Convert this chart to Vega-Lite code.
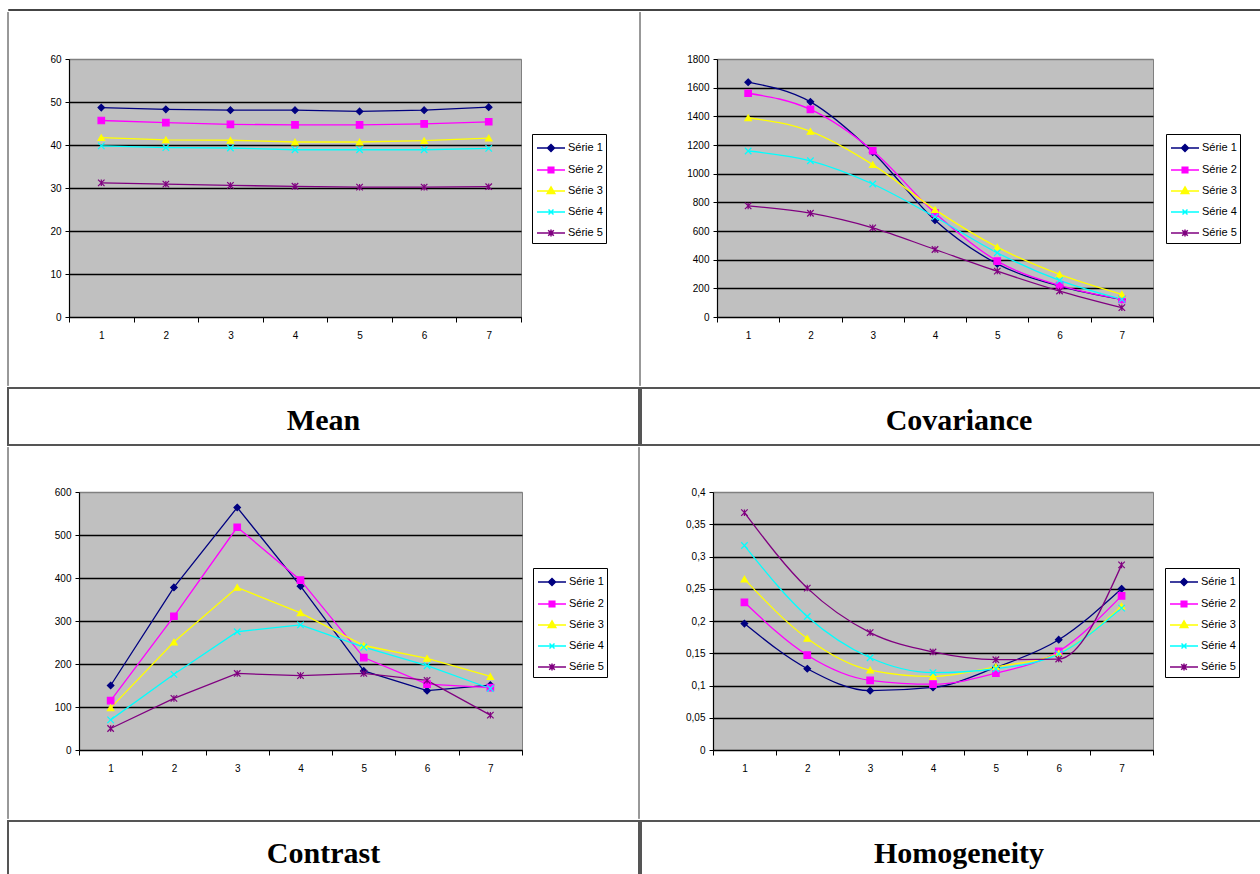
{
  "$schema": "https://vega.github.io/schema/vega-lite/v6.json",
  "background": "white",
  "padding": {"left": 7, "top": 8, "right": 0, "bottom": 0},
  "datasets": {
    "mean": [
      {"x": 1, "s": "Série 1", "v": 48.7}, {"x": 2, "s": "Série 1", "v": 48.3}, {"x": 3, "s": "Série 1", "v": 48.1}, {"x": 4, "s": "Série 1", "v": 48.1}, {"x": 5, "s": "Série 1", "v": 47.8}, {"x": 6, "s": "Série 1", "v": 48.1}, {"x": 7, "s": "Série 1", "v": 48.8},
      {"x": 1, "s": "Série 2", "v": 45.7}, {"x": 2, "s": "Série 2", "v": 45.2}, {"x": 3, "s": "Série 2", "v": 44.8}, {"x": 4, "s": "Série 2", "v": 44.7}, {"x": 5, "s": "Série 2", "v": 44.7}, {"x": 6, "s": "Série 2", "v": 44.9}, {"x": 7, "s": "Série 2", "v": 45.4},
      {"x": 1, "s": "Série 3", "v": 41.7}, {"x": 2, "s": "Série 3", "v": 41.2}, {"x": 3, "s": "Série 3", "v": 41.1}, {"x": 4, "s": "Série 3", "v": 40.7}, {"x": 5, "s": "Série 3", "v": 40.7}, {"x": 6, "s": "Série 3", "v": 41.0}, {"x": 7, "s": "Série 3", "v": 41.6},
      {"x": 1, "s": "Série 4", "v": 39.8}, {"x": 2, "s": "Série 4", "v": 39.4}, {"x": 3, "s": "Série 4", "v": 39.3}, {"x": 4, "s": "Série 4", "v": 38.9}, {"x": 5, "s": "Série 4", "v": 38.9}, {"x": 6, "s": "Série 4", "v": 38.9}, {"x": 7, "s": "Série 4", "v": 39.2},
      {"x": 1, "s": "Série 5", "v": 31.2}, {"x": 2, "s": "Série 5", "v": 30.9}, {"x": 3, "s": "Série 5", "v": 30.6}, {"x": 4, "s": "Série 5", "v": 30.4}, {"x": 5, "s": "Série 5", "v": 30.2}, {"x": 6, "s": "Série 5", "v": 30.2}, {"x": 7, "s": "Série 5", "v": 30.3}
    ],
    "cov": [
      {"x": 1, "s": "Série 1", "v": 1638}, {"x": 2, "s": "Série 1", "v": 1501}, {"x": 3, "s": "Série 1", "v": 1150}, {"x": 4, "s": "Série 1", "v": 675}, {"x": 5, "s": "Série 1", "v": 371}, {"x": 6, "s": "Série 1", "v": 216}, {"x": 7, "s": "Série 1", "v": 123},
      {"x": 1, "s": "Série 2", "v": 1561}, {"x": 2, "s": "Série 2", "v": 1448}, {"x": 3, "s": "Série 2", "v": 1160}, {"x": 4, "s": "Série 2", "v": 726}, {"x": 5, "s": "Série 2", "v": 390}, {"x": 6, "s": "Série 2", "v": 220}, {"x": 7, "s": "Série 2", "v": 123},
      {"x": 1, "s": "Série 3", "v": 1390}, {"x": 2, "s": "Série 3", "v": 1295}, {"x": 3, "s": "Série 3", "v": 1063}, {"x": 4, "s": "Série 3", "v": 749}, {"x": 5, "s": "Série 3", "v": 487}, {"x": 6, "s": "Série 3", "v": 297}, {"x": 7, "s": "Série 3", "v": 158},
      {"x": 1, "s": "Série 4", "v": 1158}, {"x": 2, "s": "Série 4", "v": 1090}, {"x": 3, "s": "Série 4", "v": 928}, {"x": 4, "s": "Série 4", "v": 698}, {"x": 5, "s": "Série 4", "v": 448}, {"x": 6, "s": "Série 4", "v": 255}, {"x": 7, "s": "Série 4", "v": 123},
      {"x": 1, "s": "Série 5", "v": 775}, {"x": 2, "s": "Série 5", "v": 724}, {"x": 3, "s": "Série 5", "v": 622}, {"x": 4, "s": "Série 5", "v": 471}, {"x": 5, "s": "Série 5", "v": 320}, {"x": 6, "s": "Série 5", "v": 181}, {"x": 7, "s": "Série 5", "v": 65}
    ],
    "contrast": [
      {"x": 1, "s": "Série 1", "v": 150}, {"x": 2, "s": "Série 1", "v": 378}, {"x": 3, "s": "Série 1", "v": 564}, {"x": 4, "s": "Série 1", "v": 381}, {"x": 5, "s": "Série 1", "v": 184}, {"x": 6, "s": "Série 1", "v": 138}, {"x": 7, "s": "Série 1", "v": 151},
      {"x": 1, "s": "Série 2", "v": 115}, {"x": 2, "s": "Série 2", "v": 311}, {"x": 3, "s": "Série 2", "v": 518}, {"x": 4, "s": "Série 2", "v": 395}, {"x": 5, "s": "Série 2", "v": 215}, {"x": 6, "s": "Série 2", "v": 153}, {"x": 7, "s": "Série 2", "v": 145},
      {"x": 1, "s": "Série 3", "v": 98}, {"x": 2, "s": "Série 3", "v": 251}, {"x": 3, "s": "Série 3", "v": 378}, {"x": 4, "s": "Série 3", "v": 319}, {"x": 5, "s": "Série 3", "v": 243}, {"x": 6, "s": "Série 3", "v": 213}, {"x": 7, "s": "Série 3", "v": 171},
      {"x": 1, "s": "Série 4", "v": 70}, {"x": 2, "s": "Série 4", "v": 176}, {"x": 3, "s": "Série 4", "v": 275}, {"x": 4, "s": "Série 4", "v": 291}, {"x": 5, "s": "Série 4", "v": 239}, {"x": 6, "s": "Série 4", "v": 196}, {"x": 7, "s": "Série 4", "v": 143},
      {"x": 1, "s": "Série 5", "v": 50}, {"x": 2, "s": "Série 5", "v": 120}, {"x": 3, "s": "Série 5", "v": 178}, {"x": 4, "s": "Série 5", "v": 173}, {"x": 5, "s": "Série 5", "v": 178}, {"x": 6, "s": "Série 5", "v": 162}, {"x": 7, "s": "Série 5", "v": 81}
    ],
    "homog": [
      {"x": 1, "s": "Série 1", "v": 0.196}, {"x": 2, "s": "Série 1", "v": 0.126}, {"x": 3, "s": "Série 1", "v": 0.092}, {"x": 4, "s": "Série 1", "v": 0.097}, {"x": 5, "s": "Série 1", "v": 0.128}, {"x": 6, "s": "Série 1", "v": 0.171}, {"x": 7, "s": "Série 1", "v": 0.250},
      {"x": 1, "s": "Série 2", "v": 0.229}, {"x": 2, "s": "Série 2", "v": 0.147}, {"x": 3, "s": "Série 2", "v": 0.108}, {"x": 4, "s": "Série 2", "v": 0.102}, {"x": 5, "s": "Série 2", "v": 0.119}, {"x": 6, "s": "Série 2", "v": 0.153}, {"x": 7, "s": "Série 2", "v": 0.239},
      {"x": 1, "s": "Série 3", "v": 0.265}, {"x": 2, "s": "Série 3", "v": 0.173}, {"x": 3, "s": "Série 3", "v": 0.124}, {"x": 4, "s": "Série 3", "v": 0.114}, {"x": 5, "s": "Série 3", "v": 0.129}, {"x": 6, "s": "Série 3", "v": 0.150}, {"x": 7, "s": "Série 3", "v": 0.223},
      {"x": 1, "s": "Série 4", "v": 0.317}, {"x": 2, "s": "Série 4", "v": 0.207}, {"x": 3, "s": "Série 4", "v": 0.143}, {"x": 4, "s": "Série 4", "v": 0.120}, {"x": 5, "s": "Série 4", "v": 0.126}, {"x": 6, "s": "Série 4", "v": 0.149}, {"x": 7, "s": "Série 4", "v": 0.220},
      {"x": 1, "s": "Série 5", "v": 0.368}, {"x": 2, "s": "Série 5", "v": 0.251}, {"x": 3, "s": "Série 5", "v": 0.182}, {"x": 4, "s": "Série 5", "v": 0.152}, {"x": 5, "s": "Série 5", "v": 0.140}, {"x": 6, "s": "Série 5", "v": 0.141}, {"x": 7, "s": "Série 5", "v": 0.287}
    ],
    "border1": [{"a": -0.267, "b": 1.182}],
    "border2": [{"a": -0.267, "b": 1.174}],
    "topline": [{"t": ""}],
    "t1": [{"t": "Mean"}],
    "t2": [{"t": "Covariance"}],
    "t3": [{"t": "Contrast"}],
    "t4": [{"t": "Homogeneity"}]
  },
  "vconcat": [
    {
      "width": 1260, "height": 1,
      "view": {"stroke": "#444444", "strokeWidth": 1, "fill": null},
      "data": {"name": "topline"},
      "mark": {"type": "text", "fontSize": 0},
      "encoding": {"text": {"field": "t", "type": "nominal"}}
    },
    {
      "hconcat": [
        {
          "width": 1, "height": 258,
          "view": {"stroke": null, "fill": null},
          "data": {"name": "border1"},
          "mark": {"type": "rule", "color": "#333333", "strokeWidth": 1},
          "encoding": {
            "x": {"datum": 0, "type": "quantitative", "scale": {"domain": [0, 1]}, "axis": null},
            "y": {"field": "a", "type": "quantitative", "scale": {"domain": [0, 1], "nice": false}, "axis": null},
            "y2": {"field": "b"}
          }
        },
        {
          "width": 452, "height": 258,
          "data": {"name": "mean"},
          "encoding": {
            "x": {"field": "x", "type": "ordinal", "bandPosition": 0.5, "scale": {"type": "band", "paddingInner": 0, "paddingOuter": 0}, "axis": {"title": null}},
            "y": {"field": "v", "type": "quantitative", "scale": {"domain": [0, 60], "nice": false, "zero": true}, "axis": {"title": null, "values": [0, 10, 20, 30, 40, 50, 60], "format": "d", "minExtent": 59, "gridColor": {"condition": {"test": "datum.index === 1", "value": "#808080"}, "value": "black"}}},
            "color": {"field": "s", "type": "nominal", "scale": {"domain": ["Série 1", "Série 2", "Série 3", "Série 4", "Série 5"], "range": ["#000080", "#FF00FF", "#FFFF00", "#00FFFF", "#800080"]},
              "legend": {"title": null, "orient": "none", "legendX": 463, "legendY": 75, "strokeColor": "black", "fillColor": "white", "padding": 3, "labelFont": "Liberation Sans", "labelFontSize": 11, "labelColor": "black", "labelOffset": 11, "rowPadding": 4, "symbolSize": 400, "labelExpr": "datum.label + '  '",
                "encode": {"symbols": {"update": {
                  "shape": {"signal": "datum.value === 'Série 1' ? 'M-0.9,0H1.9M0.5,-0.35L0.85,0L0.5,0.35L0.15,0Z' : datum.value === 'Série 2' ? 'M-0.9,0H1.9M0.22,-0.28H0.78V0.28H0.22Z' : datum.value === 'Série 3' ? 'M-0.9,0H1.9M0.5,-0.4L0.88,0.25H0.12Z' : datum.value === 'Série 4' ? 'M-0.9,0H1.9M0.25,-0.25L0.75,0.25M0.75,-0.25L0.25,0.25' : 'M-0.9,0H1.9M0.22,-0.28L0.78,0.28M0.78,-0.28L0.22,0.28M0.5,-0.35V0.35'"},
                  "fill": {"signal": "datum.value === 'Série 1' ? '#000080' : datum.value === 'Série 2' ? '#FF00FF' : datum.value === 'Série 3' ? '#FFFF00' : datum.value === 'Série 4' ? '#00FFFF' : '#800080'"},
                  "stroke": {"signal": "datum.value === 'Série 1' ? '#000080' : datum.value === 'Série 2' ? '#FF00FF' : datum.value === 'Série 3' ? '#FFFF00' : datum.value === 'Série 4' ? '#00FFFF' : '#800080'"},
                  "strokeWidth": {"value": 1.5}, "opacity": {"value": 1}, "size": {"value": 400}}}}}}
          },
          "layer": [
            {"mark": {"type": "line", "strokeWidth": 1.3}},
            {"mark": {"type": "point", "opacity": 1, "size": 42, "strokeWidth": 1.2, "filled": true},
             "encoding": {
               "shape": {"condition": [{"test": "datum.s === 'Série 1'", "value": "M0,-1L1,0L0,1L-1,0Z"}, {"test": "datum.s === 'Série 2'", "value": "square"}, {"test": "datum.s === 'Série 3'", "value": "triangle-up"}, {"test": "datum.s === 'Série 4'", "value": "M-1,-1L1,1M1,-1L-1,1"}], "value": "M-1,-1L1,1M1,-1L-1,1M0,-1V1"},
               "stroke": {"condition": [{"test": "datum.s === 'Série 1'", "value": "#000080"}, {"test": "datum.s === 'Série 2'", "value": "#FF00FF"}, {"test": "datum.s === 'Série 3'", "value": "#FFFF00"}, {"test": "datum.s === 'Série 4'", "value": "#00FFFF"}], "value": "#800080"}
             }}
          ]
        },
        {
          "width": 33, "height": 258,
          "view": {"stroke": null, "fill": null},
          "data": {"name": "border1"},
          "mark": {"type": "rule", "color": "#333333", "strokeWidth": 1},
          "encoding": {
            "x": {"datum": 1, "type": "quantitative", "scale": {"domain": [0, 1]}, "axis": null},
            "y": {"field": "a", "type": "quantitative", "scale": {"domain": [0, 1], "nice": false}, "axis": null},
            "y2": {"field": "b"}
          }
        },
        {
          "width": 436, "height": 258,
          "data": {"name": "cov"},
          "encoding": {
            "x": {"field": "x", "type": "ordinal", "bandPosition": 0.5, "scale": {"type": "band", "paddingInner": 0, "paddingOuter": 0}, "axis": {"title": null}},
            "y": {"field": "v", "type": "quantitative", "scale": {"domain": [0, 1800], "nice": false, "zero": true}, "axis": {"title": null, "values": [0, 200, 400, 600, 800, 1000, 1200, 1400, 1600, 1800], "format": "d", "minExtent": 75, "gridColor": {"condition": {"test": "datum.index === 1", "value": "#808080"}, "value": "black"}}},
            "color": {"field": "s", "type": "nominal", "scale": {"domain": ["Série 1", "Série 2", "Série 3", "Série 4", "Série 5"], "range": ["#000080", "#FF00FF", "#FFFF00", "#00FFFF", "#800080"]},
              "legend": {"title": null, "orient": "none", "legendX": 449, "legendY": 75, "strokeColor": "black", "fillColor": "white", "padding": 3, "labelFont": "Liberation Sans", "labelFontSize": 11, "labelColor": "black", "labelOffset": 11, "rowPadding": 4, "symbolSize": 400, "labelExpr": "datum.label + '  '",
                "encode": {"symbols": {"update": {
                  "shape": {"signal": "datum.value === 'Série 1' ? 'M-0.9,0H1.9M0.5,-0.35L0.85,0L0.5,0.35L0.15,0Z' : datum.value === 'Série 2' ? 'M-0.9,0H1.9M0.22,-0.28H0.78V0.28H0.22Z' : datum.value === 'Série 3' ? 'M-0.9,0H1.9M0.5,-0.4L0.88,0.25H0.12Z' : datum.value === 'Série 4' ? 'M-0.9,0H1.9M0.25,-0.25L0.75,0.25M0.75,-0.25L0.25,0.25' : 'M-0.9,0H1.9M0.22,-0.28L0.78,0.28M0.78,-0.28L0.22,0.28M0.5,-0.35V0.35'"},
                  "fill": {"signal": "datum.value === 'Série 1' ? '#000080' : datum.value === 'Série 2' ? '#FF00FF' : datum.value === 'Série 3' ? '#FFFF00' : datum.value === 'Série 4' ? '#00FFFF' : '#800080'"},
                  "stroke": {"signal": "datum.value === 'Série 1' ? '#000080' : datum.value === 'Série 2' ? '#FF00FF' : datum.value === 'Série 3' ? '#FFFF00' : datum.value === 'Série 4' ? '#00FFFF' : '#800080'"},
                  "strokeWidth": {"value": 1.5}, "opacity": {"value": 1}, "size": {"value": 400}}}}}}
          },
          "layer": [
            {"mark": {"type": "line", "strokeWidth": 1.3, "interpolate": "monotone"}},
            {"mark": {"type": "point", "opacity": 1, "size": 42, "strokeWidth": 1.2, "filled": true},
             "encoding": {
               "shape": {"condition": [{"test": "datum.s === 'Série 1'", "value": "M0,-1L1,0L0,1L-1,0Z"}, {"test": "datum.s === 'Série 2'", "value": "square"}, {"test": "datum.s === 'Série 3'", "value": "triangle-up"}, {"test": "datum.s === 'Série 4'", "value": "M-1,-1L1,1M1,-1L-1,1"}], "value": "M-1,-1L1,1M1,-1L-1,1M0,-1V1"},
               "stroke": {"condition": [{"test": "datum.s === 'Série 1'", "value": "#000080"}, {"test": "datum.s === 'Série 2'", "value": "#FF00FF"}, {"test": "datum.s === 'Série 3'", "value": "#FFFF00"}, {"test": "datum.s === 'Série 4'", "value": "#00FFFF"}], "value": "#800080"}
             }}
          ]
        }
      ],
      "spacing": 0,
      "bounds": "full",
      "resolve": {"scale": {"color": "independent"}}
    },
    {
      "hconcat": [
        {
          "width": 631, "height": 57,
          "view": {"stroke": "#555555", "strokeWidth": 2, "fill": "white"},
          "data": {"name": "t1"},
          "mark": {"type": "text", "font": "Liberation Serif", "fontWeight": "bold", "fontSize": 30, "baseline": "middle", "align": "center", "dy": 4, "color": "black"},
          "encoding": {"text": {"field": "t", "type": "nominal"}}
        },
        {
          "width": 636, "height": 57,
          "view": {"stroke": "#555555", "strokeWidth": 2, "fill": "white"},
          "data": {"name": "t2"},
          "mark": {"type": "text", "font": "Liberation Serif", "fontWeight": "bold", "fontSize": 30, "baseline": "middle", "align": "center", "dy": 4, "color": "black"},
          "encoding": {"text": {"field": "t", "type": "nominal"}}
        }
      ],
      "spacing": 0,
      "bounds": "full"
    },
    {
      "hconcat": [
        {
          "width": 1, "height": 258,
          "view": {"stroke": null, "fill": null},
          "data": {"name": "border2"},
          "mark": {"type": "rule", "color": "#333333", "strokeWidth": 1},
          "encoding": {
            "x": {"datum": 0, "type": "quantitative", "scale": {"domain": [0, 1]}, "axis": null},
            "y": {"field": "a", "type": "quantitative", "scale": {"domain": [0, 1], "nice": false}, "axis": null},
            "y2": {"field": "b"}
          }
        },
        {
          "width": 443, "height": 258,
          "data": {"name": "contrast"},
          "encoding": {
            "x": {"field": "x", "type": "ordinal", "bandPosition": 0.5, "scale": {"type": "band", "paddingInner": 0, "paddingOuter": 0}, "axis": {"title": null}},
            "y": {"field": "v", "type": "quantitative", "scale": {"domain": [0, 600], "nice": false, "zero": true}, "axis": {"title": null, "values": [0, 100, 200, 300, 400, 500, 600], "format": "d", "minExtent": 69, "gridColor": {"condition": {"test": "datum.index === 1", "value": "#808080"}, "value": "black"}}},
            "color": {"field": "s", "type": "nominal", "scale": {"domain": ["Série 1", "Série 2", "Série 3", "Série 4", "Série 5"], "range": ["#000080", "#FF00FF", "#FFFF00", "#00FFFF", "#800080"]},
              "legend": {"title": null, "orient": "none", "legendX": 454, "legendY": 76, "strokeColor": "black", "fillColor": "white", "padding": 3, "labelFont": "Liberation Sans", "labelFontSize": 11, "labelColor": "black", "labelOffset": 11, "rowPadding": 4, "symbolSize": 400, "labelExpr": "datum.label + '  '",
                "encode": {"symbols": {"update": {
                  "shape": {"signal": "datum.value === 'Série 1' ? 'M-0.9,0H1.9M0.5,-0.35L0.85,0L0.5,0.35L0.15,0Z' : datum.value === 'Série 2' ? 'M-0.9,0H1.9M0.22,-0.28H0.78V0.28H0.22Z' : datum.value === 'Série 3' ? 'M-0.9,0H1.9M0.5,-0.4L0.88,0.25H0.12Z' : datum.value === 'Série 4' ? 'M-0.9,0H1.9M0.25,-0.25L0.75,0.25M0.75,-0.25L0.25,0.25' : 'M-0.9,0H1.9M0.22,-0.28L0.78,0.28M0.78,-0.28L0.22,0.28M0.5,-0.35V0.35'"},
                  "fill": {"signal": "datum.value === 'Série 1' ? '#000080' : datum.value === 'Série 2' ? '#FF00FF' : datum.value === 'Série 3' ? '#FFFF00' : datum.value === 'Série 4' ? '#00FFFF' : '#800080'"},
                  "stroke": {"signal": "datum.value === 'Série 1' ? '#000080' : datum.value === 'Série 2' ? '#FF00FF' : datum.value === 'Série 3' ? '#FFFF00' : datum.value === 'Série 4' ? '#00FFFF' : '#800080'"},
                  "strokeWidth": {"value": 1.5}, "opacity": {"value": 1}, "size": {"value": 400}}}}}}
          },
          "layer": [
            {"mark": {"type": "line", "strokeWidth": 1.3}},
            {"mark": {"type": "point", "opacity": 1, "size": 42, "strokeWidth": 1.2, "filled": true},
             "encoding": {
               "shape": {"condition": [{"test": "datum.s === 'Série 1'", "value": "M0,-1L1,0L0,1L-1,0Z"}, {"test": "datum.s === 'Série 2'", "value": "square"}, {"test": "datum.s === 'Série 3'", "value": "triangle-up"}, {"test": "datum.s === 'Série 4'", "value": "M-1,-1L1,1M1,-1L-1,1"}], "value": "M-1,-1L1,1M1,-1L-1,1M0,-1V1"},
               "stroke": {"condition": [{"test": "datum.s === 'Série 1'", "value": "#000080"}, {"test": "datum.s === 'Série 2'", "value": "#FF00FF"}, {"test": "datum.s === 'Série 3'", "value": "#FFFF00"}, {"test": "datum.s === 'Série 4'", "value": "#00FFFF"}], "value": "#800080"}
             }}
          ]
        },
        {
          "width": 31, "height": 258,
          "view": {"stroke": null, "fill": null},
          "data": {"name": "border2"},
          "mark": {"type": "rule", "color": "#333333", "strokeWidth": 1},
          "encoding": {
            "x": {"datum": 1, "type": "quantitative", "scale": {"domain": [0, 1]}, "axis": null},
            "y": {"field": "a", "type": "quantitative", "scale": {"domain": [0, 1], "nice": false}, "axis": null},
            "y2": {"field": "b"}
          }
        },
        {
          "width": 440, "height": 258,
          "data": {"name": "homog"},
          "encoding": {
            "x": {"field": "x", "type": "ordinal", "bandPosition": 0.5, "scale": {"type": "band", "paddingInner": 0, "paddingOuter": 0}, "axis": {"title": null}},
            "y": {"field": "v", "type": "quantitative", "scale": {"domain": [0, 0.4], "nice": false, "zero": true}, "axis": {"title": null, "values": [0, 0.05, 0.1, 0.15, 0.2, 0.25, 0.3, 0.35, 0.4], "labelExpr": "replace(format(datum.value, '.2~f'), '.', ',')", "minExtent": 72, "gridColor": {"condition": {"test": "datum.index === 1", "value": "#808080"}, "value": "black"}}},
            "color": {"field": "s", "type": "nominal", "scale": {"domain": ["Série 1", "Série 2", "Série 3", "Série 4", "Série 5"], "range": ["#000080", "#FF00FF", "#FFFF00", "#00FFFF", "#800080"]},
              "legend": {"title": null, "orient": "none", "legendX": 452, "legendY": 76, "strokeColor": "black", "fillColor": "white", "padding": 3, "labelFont": "Liberation Sans", "labelFontSize": 11, "labelColor": "black", "labelOffset": 11, "rowPadding": 4, "symbolSize": 400, "labelExpr": "datum.label + '  '",
                "encode": {"symbols": {"update": {
                  "shape": {"signal": "datum.value === 'Série 1' ? 'M-0.9,0H1.9M0.5,-0.35L0.85,0L0.5,0.35L0.15,0Z' : datum.value === 'Série 2' ? 'M-0.9,0H1.9M0.22,-0.28H0.78V0.28H0.22Z' : datum.value === 'Série 3' ? 'M-0.9,0H1.9M0.5,-0.4L0.88,0.25H0.12Z' : datum.value === 'Série 4' ? 'M-0.9,0H1.9M0.25,-0.25L0.75,0.25M0.75,-0.25L0.25,0.25' : 'M-0.9,0H1.9M0.22,-0.28L0.78,0.28M0.78,-0.28L0.22,0.28M0.5,-0.35V0.35'"},
                  "fill": {"signal": "datum.value === 'Série 1' ? '#000080' : datum.value === 'Série 2' ? '#FF00FF' : datum.value === 'Série 3' ? '#FFFF00' : datum.value === 'Série 4' ? '#00FFFF' : '#800080'"},
                  "stroke": {"signal": "datum.value === 'Série 1' ? '#000080' : datum.value === 'Série 2' ? '#FF00FF' : datum.value === 'Série 3' ? '#FFFF00' : datum.value === 'Série 4' ? '#00FFFF' : '#800080'"},
                  "strokeWidth": {"value": 1.5}, "opacity": {"value": 1}, "size": {"value": 400}}}}}}
          },
          "layer": [
            {"mark": {"type": "line", "strokeWidth": 1.3, "interpolate": "monotone"}},
            {"mark": {"type": "point", "opacity": 1, "size": 42, "strokeWidth": 1.2, "filled": true},
             "encoding": {
               "shape": {"condition": [{"test": "datum.s === 'Série 1'", "value": "M0,-1L1,0L0,1L-1,0Z"}, {"test": "datum.s === 'Série 2'", "value": "square"}, {"test": "datum.s === 'Série 3'", "value": "triangle-up"}, {"test": "datum.s === 'Série 4'", "value": "M-1,-1L1,1M1,-1L-1,1"}], "value": "M-1,-1L1,1M1,-1L-1,1M0,-1V1"},
               "stroke": {"condition": [{"test": "datum.s === 'Série 1'", "value": "#000080"}, {"test": "datum.s === 'Série 2'", "value": "#FF00FF"}, {"test": "datum.s === 'Série 3'", "value": "#FFFF00"}, {"test": "datum.s === 'Série 4'", "value": "#00FFFF"}], "value": "#800080"}
             }}
          ]
        }
      ],
      "spacing": 0,
      "bounds": "full",
      "resolve": {"scale": {"color": "independent"}}
    },
    {
      "hconcat": [
        {
          "width": 631, "height": 57,
          "view": {"stroke": "#555555", "strokeWidth": 2, "fill": "white"},
          "data": {"name": "t3"},
          "mark": {"type": "text", "font": "Liberation Serif", "fontWeight": "bold", "fontSize": 30, "baseline": "middle", "align": "center", "dy": 4, "color": "black"},
          "encoding": {"text": {"field": "t", "type": "nominal"}}
        },
        {
          "width": 636, "height": 57,
          "view": {"stroke": "#555555", "strokeWidth": 2, "fill": "white"},
          "data": {"name": "t4"},
          "mark": {"type": "text", "font": "Liberation Serif", "fontWeight": "bold", "fontSize": 30, "baseline": "middle", "align": "center", "dy": 4, "color": "black"},
          "encoding": {"text": {"field": "t", "type": "nominal"}}
        }
      ],
      "spacing": 0,
      "bounds": "full"
    }
  ],
  "spacing": 0,
  "bounds": "full",
  "resolve": {"scale": {"color": "independent"}},
  "config": {
    "view": {"stroke": "#808080", "fill": "#C0C0C0"},
    "axis": {"labelFont": "Liberation Sans", "labelFontSize": 10, "labelColor": "black", "domainColor": "black", "tickColor": "black", "domainWidth": 1.2},
    "axisX": {"tickBand": "extent", "labelAngle": 0, "tickSize": 5, "labelPadding": 8, "grid": false},
    "axisY": {"grid": true, "gridWidth": 1.3, "tickSize": 4, "labelPadding": 4}
  }
}
